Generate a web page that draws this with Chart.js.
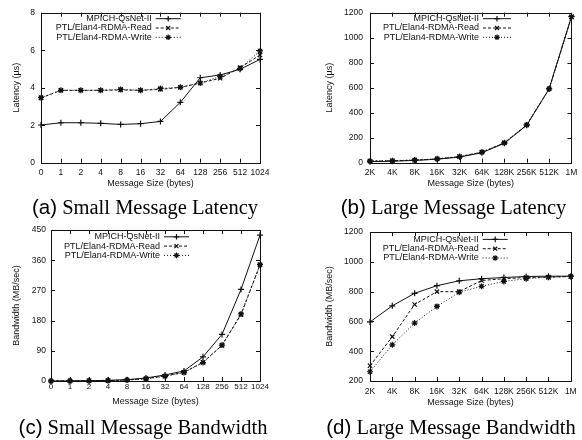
<!DOCTYPE html>
<html><head><meta charset="utf-8">
<script src="https://cdn.jsdelivr.net/npm/chart.js@4/dist/chart.umd.min.js"></script>
<style>
html,body{margin:0;padding:0;background:#fff;width:582px;height:440px;overflow:hidden;position:relative;}
canvas.panel{position:absolute;}
.cap{position:absolute;font-family:'Liberation Serif','Times New Roman',serif;font-size:20.5px;line-height:20px;white-space:nowrap;color:#000;transform:translateX(-50%);}
.cap .l{font-family:'Liberation Sans',Arial,sans-serif;}
</style></head><body>
<canvas id="ca" class="panel" style="left:0;top:0" width="291" height="200"></canvas>
<canvas id="cb" class="panel" style="left:291px;top:0" width="291" height="200"></canvas>
<canvas id="cc" class="panel" style="left:0;top:220px" width="291" height="200"></canvas>
<canvas id="cd" class="panel" style="left:291px;top:220px" width="291" height="200"></canvas>
<div class="cap" style="left:145px;top:197px"><span class="l">(a)</span> Small Message Latency</div>
<div class="cap" style="left:453.5px;top:197px"><span class="l">(b)</span> Large Message Latency</div>
<div class="cap" style="left:143px;top:417px"><span class="l">(c)</span> Small Message Bandwidth</div>
<div class="cap" style="left:451px;top:417px"><span class="l">(d)</span> Large Message Bandwidth</div>
<script>
// ---- data ----
const seriesNames = ['MPICH-QsNet-II', 'PTL/Elan4-RDMA-Read', 'PTL/Elan4-RDMA-Write'];
const smallSizes = ['0','1','2','4','8','16','32','64','128','256','512','1024'];
const largeSizes = ['2K','4K','8K','16K','32K','64K','128K','256K','512K','1M'];

const latSmallMpich = [2.01,2.13,2.13,2.10,2.04,2.08,2.20,3.22,4.53,4.68,4.98,5.51];
const latSmallRead  = [3.45,3.86,3.86,3.86,3.88,3.86,3.91,4.02,4.25,4.50,5.07,5.74];
const latSmallWrite = [3.47,3.86,3.86,3.86,3.91,3.86,3.96,4.02,4.25,4.59,5.03,5.96];

const latLargeMpich = [8,12,18,28,45,80,155,300,590,1170];
const latLargeRead  = [12,15,20,30,48,84,158,302,590,1165];
const latLargeWrite = [14,16,22,31,49,85,160,303,592,1168];

const bwSmallMpich = [0,0.5,1,2,4,9,18,30,72,139,273,435];
const bwSmallRead  = [0,0.3,0.6,1.3,3,7,15,26,56,106,198,346];
const bwSmallWrite = [0,0.3,0.6,1.2,2.8,6.5,14,25,55,107,200,347];

const bwLargeMpich = [597,705,789,840,873,887,895,902,904,904];
const bwLargeRead  = [302,498,714,800,800,875,887,895,897,902];
const bwLargeWrite = [262,443,589,701,796,836,869,887,897,902];

const latTicks = {a:{min:0,max:8,step:2}, b:{min:0,max:1200,step:200}};
const bwTicks  = {c:{min:0,max:450,step:90}, d:{min:200,max:1200,step:200}};

// ---- drawing ----
const FAMILY = "'Liberation Sans', Arial, sans-serif";
const FONT = {family:FAMILY, size:9};
const INK = '#111';
const styles = [
  {pt:'cross', dash:[]},
  {pt:'crossRot', dash:[3,2]},
  {pt:'star', dash:[1,2]}
];

function marker(ctx, style, x, y, r){
  ctx.save();
  ctx.setLineDash([]);
  ctx.lineWidth = 1.2;
  ctx.strokeStyle = INK;
  ctx.beginPath();
  if (style==='cross' || style==='star'){
    ctx.moveTo(x-r,y); ctx.lineTo(x+r,y); ctx.moveTo(x,y-r); ctx.lineTo(x,y+r);
  }
  if (style==='crossRot' || style==='star'){
    const d = r*0.7071;
    ctx.moveTo(x-d,y-d); ctx.lineTo(x+d,y+d); ctx.moveTo(x+d,y-d); ctx.lineTo(x-d,y+d);
  }
  ctx.stroke();
  ctx.restore();
}

function makePanel(id, labels, data, yTitle, tk, g){
  const framePlugin = {
    id:'frame'+id,
    afterDatasetsDraw(chart){
      const {ctx, chartArea:a, scales:{x, y}} = chart;
      ctx.save();
      ctx.strokeStyle = INK; ctx.lineWidth = 1; ctx.setLineDash([]);
      ctx.strokeRect(Math.round(a.left)+0.5, Math.round(a.top)+0.5, Math.round(a.right-a.left), Math.round(a.bottom-a.top));
      ctx.beginPath();
      x.ticks.forEach((t,i)=>{
        const px = Math.round(x.getPixelForTick(i))+0.5;
        ctx.moveTo(px, a.bottom); ctx.lineTo(px, a.bottom-4);
        ctx.moveTo(px, a.top); ctx.lineTo(px, a.top+4);
      });
      y.ticks.forEach((t,i)=>{
        const py = Math.round(y.getPixelForTick(i))+0.5;
        ctx.moveTo(a.left, py); ctx.lineTo(a.left+4, py);
        ctx.moveTo(a.right, py); ctx.lineTo(a.right-4, py);
      });
      ctx.stroke();
      // legend
      ctx.font = FONT.size+'px '+FONT.family;
      ctx.fillStyle = INK; ctx.textAlign = 'right'; ctx.textBaseline = 'middle';
      seriesNames.forEach((n,i)=>{
        const ly = a.top + g.legTop + i*9.3;
        ctx.fillText(n, g.legX, ly);
        ctx.save();
        ctx.strokeStyle = INK; ctx.lineWidth = 1; ctx.setLineDash(styles[i].dash);
        ctx.beginPath(); ctx.moveTo(g.legX+4, ly); ctx.lineTo(g.legX+4+g.legLen, ly); ctx.stroke();
        ctx.restore();
        marker(ctx, styles[i].pt, g.legX+4+g.legLen/2, ly, 2.8);
      });
      ctx.restore();
    }
  };
  const datasets = data.map((d,i)=>({
    label: seriesNames[i], data: d,
    borderColor: INK, backgroundColor: INK, borderWidth: 1,
    borderDash: styles[i].dash, pointStyle: styles[i].pt,
    pointRadius: 3, pointBorderWidth: 1.2, pointBorderColor: INK,
    tension: 0, clip: false, fill: false
  }));
  const xFont = {family:FAMILY, size:g.xFs};
  const yFont = {family:FAMILY, size:8.5};
  new Chart(document.getElementById(id), {
    type:'line',
    data:{labels, datasets},
    options:{
      responsive:false, animation:false, devicePixelRatio:1,
      layout:{padding:{left:g.padL, right:g.padR, top:g.padT, bottom:g.padB}},
      plugins:{legend:{display:false}, tooltip:{enabled:false}},
      scales:{
        x:{type:'category', offset:false,
           grid:{display:false, drawTicks:false}, border:{display:false},
           ticks:{font:xFont, color:INK, padding:g.xPad, maxRotation:0, autoSkip:false},
           title:{display:true, text:'Message Size (bytes)', font:FONT, color:INK, padding:0},
           afterFit(s){ s.height = g.xH; }},
        y:{min:tk.min, max:tk.max,
           grid:{display:false, drawTicks:false}, border:{display:false},
           ticks:{stepSize:tk.step, font:yFont, color:INK, padding:g.yPad,
                  callback:(v)=>String(v)},
           title:{display:true, text:yTitle, font:FONT, color:INK, padding:0},
           afterFit(s){ s.width = g.yW; }}
      }
    },
    plugins:[framePlugin]
  });
}

makePanel('ca', smallSizes, [latSmallMpich, latSmallRead, latSmallWrite], 'Latency (µs)', latTicks.a,
  {padL:11.3, padR:31, padT:12.7, padB:10.6, yW:29.7, xH:26.7, yPad:6, xPad:4.6, xFs:8.5, legX:151.7, legLen:25, legTop:6});
makePanel('cb', largeSizes, [latLargeMpich, latLargeRead, latLargeWrite], 'Latency (µs)', latTicks.b,
  {padL:33.6, padR:8, padT:12.7, padB:10.6, yW:45.4, xH:26.7, yPad:7, xPad:4.6, xFs:8.5, legX:188, legLen:28, legTop:6});
makePanel('cc', smallSizes, [bwSmallMpich, bwSmallRead, bwSmallWrite], 'Bandwidth (MB/sec)', bwTicks.c,
  {padL:11.6, padR:31, padT:10, padB:12.6, yW:39.4, xH:26.4, yPad:5, xPad:0.8, xFs:8, legX:160, legLen:25, legTop:6.7});
makePanel('cd', largeSizes, [bwLargeMpich, bwLargeRead, bwLargeWrite], 'Bandwidth (MB/sec)', bwTicks.d,
  {padL:33.6, padR:8, padT:10, padB:11.9, yW:45.4, xH:27.1, yPad:7, xPad:5.3, xFs:8.5, legX:187.7, legLen:25, legTop:7.3});
</script>
</body></html>
